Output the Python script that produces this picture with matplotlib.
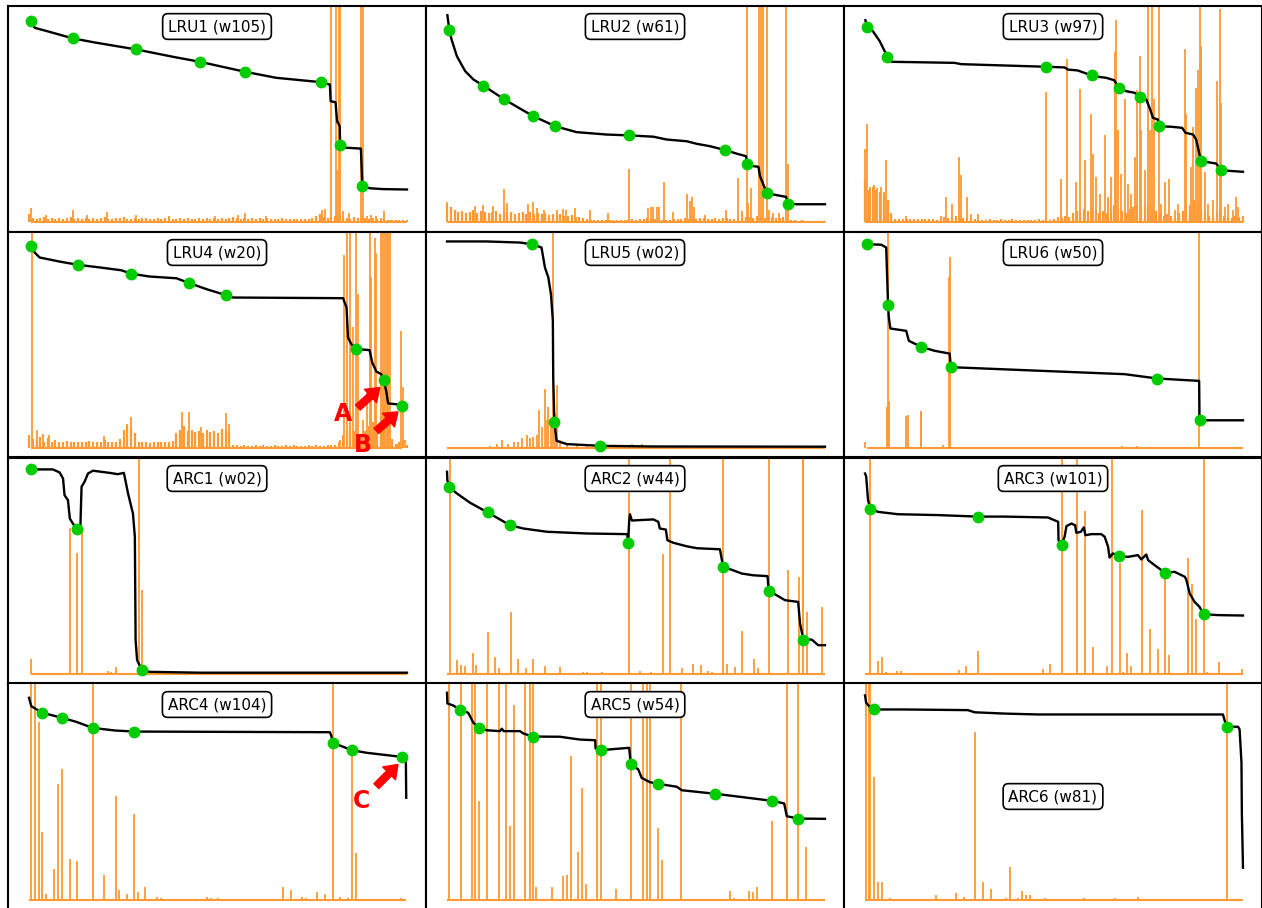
import numpy as np
import matplotlib.pyplot as plt

orange = '#ff9933'
green = '#00cc00'

# ---------------- LRU1 (w105)
lru1_x = [0.6, 1.5, 5.5, 11.6, 17.8, 28.4, 38.1, 45.2, 57.1, 65.4, 77.2, 79.6, 79.8, 81.1, 81.5,
          82.2, 82.3, 83.1, 87.8, 88.2, 90.1, 93.6, 100]
lru1_y = [92.7, 89.7, 87.8, 84.8, 82.8, 79.7, 76.3, 74.0, 69.4, 66.6, 64.6, 63.5, 55.8, 55.3, 46.6,
          44.3, 35.5, 34.4, 33.9, 16.5, 15.6, 15.2, 15.0]
lru1_dots = [(0.6, 92.7), (11.6, 84.8), (28.4, 79.7), (45.2, 74.0), (57.1, 69.4), (77.2, 64.6),
             (82.3, 35.5), (88.2, 16.5)]
lru1_spikes = [(0.6, 6.5), (4.4, 3.4), (11.6, 5.7), (15.3, 3.4), (20.7, 4.6), (28.4, 3.4), (37.0, 2.9),
               (49.1, 2.6), (55.3, 3.4), (57.1, 4.2), (62.8, 2.6), (77.4, 5.4), (78.2, 6.0), (79.8, 130),
               (81.1, 130), (81.5, 24), (82.0, 130), (82.4, 130), (83.1, 4.9), (84.7, 4.2), (87.9, 130),
               (88.3, 130), (89.3, 2.6), (90.6, 3.4), (91.9, 2.6), (93.8, 4.9), (95.4, 1.0)]
lru1_noise = [3.5, 2.0, 1.6, 1.8, 2.2, 1.5, 1.9, 1.4, 1.7, 1.6,
              1.8, 2.4, 1.5, 1.7, 1.6, 2.0, 1.5, 1.8, 1.4, 1.9,
              2.1, 1.6, 1.5, 1.8, 1.7, 2.2, 1.5, 1.6, 2.0, 1.4,
              1.7, 1.9, 1.5, 1.6, 1.8, 1.5, 2.0, 1.7, 1.4, 1.6,
              1.8, 1.5, 1.9, 1.6, 1.5, 1.7, 1.4, 1.8, 1.6, 2.0,
              1.5, 1.7, 1.6, 1.9, 2.2, 1.8, 1.6, 2.0, 1.5, 1.7,
              1.6, 1.8, 1.5, 1.7, 1.4, 1.6, 1.5, 1.8, 1.5, 1.4,
              1.6, 1.5, 1.4, 1.6, 1.5, 1.7, 2.8, 3.5, 2.5, 2.0,
              2.2, 3.0, 2.4, 2.0, 1.8, 1.6, 2.2, 1.8, 1.5, 2.0,
              1.6, 1.8, 1.5, 2.0, 1.2, 1.0, 0.9, 0.8, 0.8, 0.7, 0.7]

# ---------------- LRU2 (w61)
lru2_x = [0.1, 0.6, 1.2, 2.6, 4.8, 7.0, 9.6, 15.2, 19.3, 22.8, 28.7, 34.3, 42.2, 48.2, 54.6, 58.1,
          63.4, 66.1, 69.6, 73.6, 76.6, 79.1, 79.4, 81.0, 82.4, 82.8, 83.7, 84.6, 86.3, 89.7, 90.3,
          92.5, 100]
lru2_y = [95.5, 88.8, 84.3, 76.6, 69.7, 65.8, 63.0, 56.6, 52.4, 48.9, 44.2, 41.5, 40.4, 40.0, 39.4,
          38.1, 37.3, 36.1, 35.0, 33.2, 31.6, 30.4, 26.9, 25.8, 25.5, 21.2, 17.3, 13.5, 12.7, 11.6,
          8.5, 8.2, 8.2]
lru2_dots = [(0.6, 88.8), (9.6, 63.0), (15.2, 56.6), (22.8, 48.9), (28.7, 44.2), (48.2, 40.0),
             (73.6, 33.2), (79.4, 26.9), (84.6, 13.5), (90.3, 8.5)]
lru2_spikes = [(0.0, 9.1), (7.4, 7.2), (9.6, 8.0), (12.1, 7.5), (15.1, 15.2), (16.0, 8.8), (21.5, 8.5),
               (22.8, 9.4), (23.7, 6.5), (25.7, 5.5), (29.0, 5.7), (30.6, 6.0), (31.4, 5.7), (33.9, 6.5),
               (37.8, 5.4), (42.7, 4.0), (48.2, 24.6), (53.3, 6.5), (53.9, 7.0), (54.6, 7.0), (55.6, 7.0),
               (56.2, 7.0), (57.5, 18.3), (59.9, 4.5), (63.4, 13.1), (64.3, 9.5), (64.7, 11.5), (65.3, 7.0),
               (68.3, 3.4), (73.8, 5.4), (76.9, 20.3), (78.0, 5.2), (79.3, 130), (79.7, 8.8), (80.4, 15.6),
               (82.5, 130), (83.0, 130), (83.5, 130), (84.6, 130), (85.2, 5.7), (86.3, 4.1), (87.8, 4.1),
               (89.7, 130), (90.2, 26.8)]
lru2_noise = [8.0, 7.0, 5.5, 4.5, 5.0, 4.0, 4.8, 5.5, 4.2, 5.0,
              4.5, 4.0, 4.5, 5.2, 3.8, 4.6, 4.0, 4.8, 3.6, 4.2,
              4.5, 3.8, 4.4, 3.5, 4.0, 3.6, 4.2, 3.4, 3.8, 3.2,
              3.5, 3.0, 2.8, 3.2, 2.5, 2.2, 1.8, 1.2, 1.0, 0.9,
              1.0, 0.8, 0.9, 0.8, 1.0, 0.9, 0.8, 1.0, 1.0, 1.2,
              1.0, 1.4, 1.6, 1.8, 1.5, 1.4, 1.2, 1.0, 1.1, 1.0,
              1.2, 1.4, 1.6, 1.8, 1.6, 1.4, 1.5, 1.8, 2.0, 1.6,
              1.5, 1.8, 1.6, 2.0, 1.8, 1.5, 1.6, 1.8, 2.0, 2.5,
              2.2, 2.0, 2.8, 2.4, 2.0, 2.2, 2.5, 2.0, 1.8, 2.2,
              1.6, 0.8, 0.7, 0.6, 0.7, 0.6, 0.6, 0.5, 0.5, 0.5, 0.5]

# ---------------- LRU3 (w97)
lru3_x = [0.1, 0.6, 2.1, 3.9, 5.9, 7.0, 23.7, 25.5, 48.0, 52.8, 53.7, 56.3, 57.2, 60.0, 61.6, 63.8,
          65.9, 67.2, 69.1, 71.3, 72.7, 74.4, 75.3, 76.2, 77.5, 77.8, 81.0, 83.9, 84.8, 86.8, 87.6,
          88.5, 89.0, 92.9, 94.3, 96.5, 100]
lru3_y = [93.2, 90.2, 88.1, 83.5, 76.4, 74.0, 73.5, 72.9, 71.7, 71.4, 70.4, 70.0, 69.4, 67.7, 67.1,
          66.6, 65.5, 62.0, 60.4, 59.7, 57.8, 56.6, 52.7, 48.1, 47.3, 44.2, 44.0, 43.5, 41.2, 40.4,
          38.1, 31.2, 28.1, 27.0, 23.9, 23.6, 23.2]
lru3_dots = [(0.6, 90.2), (5.9, 76.4), (48.0, 71.7), (60.0, 67.7), (67.2, 62.0), (72.7, 57.8),
             (77.8, 44.2), (89.0, 28.1), (94.3, 23.9)]
lru3_spikes = [(0.1, 33.8), (0.6, 45.4), (1.4, 16.2), (2.4, 17.0), (3.3, 15.5), (4.2, 16.0), (5.1, 14.0),
               (5.6, 28.5), (10.8, 3.0), (20.2, 3.0), (21.3, 11.5), (23.0, 8.5),
               (24.8, 30.0), (25.3, 21.5), (26.9, 11.5), (28.1, 3.8), (29.9, 3.8), (48.0, 60.0),
               (51.9, 20.0), (53.4, 75.4), (55.9, 18.5), (56.8, 61.5), (58.1, 28.5), (59.9, 50.0),
               (60.3, 31.5), (61.2, 20.8), (62.1, 13.0), (63.6, 40.0), (64.3, 11.5), (65.2, 20.8),
               (66.1, 78.5), (66.5, 93.4), (66.9, 42.3), (67.8, 22.3), (68.7, 57.0), (69.6, 17.7),
               (70.5, 13.0), (71.4, 30.0), (72.0, 60.8), (72.7, 76.8), (73.1, 42.3), (74.0, 23.8),
               (74.9, 130), (75.3, 42.3), (75.9, 130), (76.5, 57.0), (77.8, 130), (78.2, 8.5),
               (79.3, 18.5), (80.4, 20.0), (81.9, 5.4), (82.8, 8.5), (84.6, 80.0), (85.0, 50.0),
               (86.3, 25.4), (86.8, 43.8), (87.6, 62.0), (88.1, 70.0), (88.5, 130), (89.0, 81.5),
               (89.9, 23.0), (90.7, 8.5), (92.1, 10.0), (93.2, 65.0), (93.8, 98.5), (94.3, 55.0),
               (95.2, 7.0), (96.0, 8.5), (97.4, 5.4), (98.2, 11.5), (98.7, 7.0), (100.0, 3.0)]
lru3_noise = [20, 15, 16, 15, 14, 13, 10, 4, 1.5, 1.2,
              1.4, 1.6, 1.3, 1.2, 1.5, 1.3, 1.2, 1.4, 1.2, 1.0,
              1.8, 2.5, 2.0, 2.2, 3.0, 2.5, 2.0, 1.8, 1.5, 1.2,
              1.0, 0.8, 1.0, 1.2, 0.8, 1.0, 1.2, 0.9, 1.0, 1.2,
              0.9, 1.0, 1.1, 0.8, 1.0, 0.9, 1.2, 1.0, 1.5, 1.0,
              1.2, 2.5, 2.0, 3.0, 2.5, 4.0, 5.0, 4.0, 6.0, 5.0,
              7.0, 5.0, 4.0, 5.0, 4.0, 6.0, 8.0, 6.0, 5.0, 4.0,
              6.0, 7.0, 8.0, 6.0, 7.0, 8.0, 6.0, 5.0, 4.0, 3.0,
              3.5, 3.0, 2.5, 4.0, 5.0, 6.0, 8.0, 10.0, 9.0, 6.0,
              4.0, 3.0, 2.5, 4.0, 5.0, 3.0, 2.5, 2.0, 3.0, 2.5, 1.5]

# ---------------- LRU4 (w20)
lru4_x = [0.6, 1.5, 2.8, 8.1, 13.0, 18.7, 24.4, 27.1, 31.9, 39.0, 42.2, 46.9, 52.1, 54.0, 83.1, 84.0,
          84.4, 85.3, 86.4, 90.1, 90.8, 91.9, 93.2, 93.8, 94.5, 95.0, 97.2, 98.8]
lru4_y = [93.1, 90.3, 88.0, 86.1, 84.6, 83.4, 82.1, 80.5, 79.2, 78.4, 76.3, 73.4, 70.6, 69.5, 69.2,
          64.9, 51.0, 47.9, 45.8, 45.2, 39.5, 35.3, 34.1, 31.3, 26.4, 20.6, 20.2, 19.5]
lru4_dots = [(0.6, 93.1), (13.0, 84.6), (27.1, 80.5), (42.2, 76.3), (52.1, 70.6), (86.4, 45.8),
             (93.8, 31.3), (98.8, 19.5)]
lru4_spikes = [(0.8, 130), (2.0, 8.2), (3.7, 6.6), (5.3, 5.8), (19.8, 5.4), (25.8, 11.2), (26.9, 14.3),
               (40.6, 16.6), (42.3, 16.6), (45.6, 9.7), (52.2, 16.2), (52.9, 11.2), (82.2, 3.5),
               (83.3, 89.0), (84.0, 130), (84.8, 130), (85.6, 56.0), (86.4, 130), (87.0, 71.0),
               (88.4, 12.8), (89.3, 26.5), (90.1, 130), (90.6, 79.0), (91.5, 97.0), (91.9, 90.0),
               (93.2, 130), (93.7, 130), (94.1, 130), (94.6, 130), (95.0, 130), (95.4, 130), (96.1, 3.5),
               (97.6, 2.0), (98.5, 54.0), (98.9, 28.0), (99.4, 3.5)]
lru4_noise = [6.0, 4.0, 3.5, 5.0, 3.0, 4.5, 3.0, 3.5, 2.8, 3.0,
              3.2, 2.8, 3.0, 2.6, 3.0, 2.8, 3.2, 2.6, 3.0, 2.8,
              3.5, 2.7, 3.0, 2.8, 4.0, 8.5, 10.0, 9.0, 7.0, 3.0,
              2.8, 3.0, 2.5, 2.8, 3.0, 2.6, 3.0, 2.8, 3.2, 7.0,
              8.5, 10.0, 8.0, 8.5, 7.5, 8.0, 7.0, 8.5, 7.5, 8.0,
              7.0, 9.0, 8.0, 7.5, 1.5, 1.2, 1.0, 1.3, 1.1, 1.0,
              1.2, 1.0, 1.3, 1.1, 1.0, 1.2, 1.0, 1.1, 1.3, 1.0,
              1.2, 1.0, 1.1, 1.0, 1.2, 1.0, 1.3, 1.1, 1.0, 1.2,
              1.4, 1.6, 3.0, 6.0, 8.0, 10.0, 8.0, 6.0, 5.0, 8.0,
              10.0, 12.0, 8.0, 15.0, 20.0, 12.0, 4.0, 2.0, 3.0, 4.0, 1.5]

# ---------------- LRU5 (w02)
lru5_x = [0.0, 10.5, 19.3, 22.5, 25.0, 25.9, 26.8, 27.5, 28.0, 28.1, 28.4, 29.0, 31.7, 40.6, 54.6, 100]
lru5_y = [95.4, 95.4, 94.9, 94.1, 92.6, 83.4, 78.8, 71.0, 58.8, 32.6, 11.8, 3.3, 1.8, 1.0, 0.7, 0.6]
lru5_dots = [(22.5, 94.1), (28.4, 11.8), (40.6, 1.0)]
lru5_spikes = [(11.4, 0.9), (13.1, 2.0), (14.5, 3.5), (16.2, 2.0), (17.6, 2.7), (18.9, 2.7), (19.8, 4.6),
               (21.1, 5.8), (22.0, 4.8), (22.8, 5.2), (23.7, 5.8), (24.4, 17.4), (25.0, 9.7), (25.9, 27.4),
               (26.4, 12.8), (26.8, 19.0), (27.4, 9.7), (28.1, 130), (28.6, 15.8), (29.0, 29.0),
               (29.9, 3.5), (31.7, 2.0), (34.3, 1.2), (37.0, 1.0), (40.5, 1.2), (45.8, 1.2), (48.9, 2.0),
               (51.5, 2.0), (59.0, 1.0)]

# ---------------- LRU6 (w50)
lru6_x = [0.6, 4.3, 5.6, 6.1, 6.3, 6.7, 10.9, 11.6, 14.9, 18.4, 22.4, 22.7, 24.6, 45.8, 68.7, 77.3,
          88.4, 88.5, 100]
lru6_y = [94.1, 93.9, 92.6, 66.1, 60.3, 55.2, 54.1, 49.5, 46.7, 44.9, 43.6, 37.5, 37.2, 35.7, 34.1,
          32.1, 31.0, 12.8, 12.8]
lru6_dots = [(0.6, 94.1), (6.1, 66.1), (14.9, 46.7), (22.7, 37.5), (77.3, 32.1), (88.5, 12.8)]
lru6_spikes = [(0.0, 3.0), (5.8, 19.0), (6.1, 130), (6.4, 21.5), (10.9, 14.6), (11.3, 15.4), (14.7, 17.0),
               (14.9, 17.3), (20.6, 1.5), (22.3, 79.0), (22.5, 88.0), (45.0, 0.5), (68.0, 0.8),
               (72.0, 0.7), (88.4, 130), (93.4, 0.6)]

# ---------------- ARC1 (w02)
arc1_x = [0.6, 6.3, 8.1, 9.0, 9.4, 10.3, 10.8, 11.6, 12.7, 13.6, 13.9, 14.7, 15.6, 16.9, 21.3, 23.5,
          25.1, 26.2, 27.5, 28.0, 28.2, 28.6, 29.9, 31.9, 45.2, 100]
arc1_y = [94.5, 94.5, 93.1, 90.3, 82.6, 80.3, 71.8, 69.5, 66.9, 68.7, 86.5, 88.8, 92.6, 93.9, 92.9,
          92.3, 92.9, 83.4, 74.1, 63.4, 15.6, 6.4, 1.8, 1.0, 0.6, 0.6]
arc1_dots = [(0.6, 94.5), (12.7, 66.9), (29.9, 1.8)]
arc1_spikes = [(0.6, 6.9), (10.8, 67.4), (12.8, 56.0), (13.9, 67.4), (18.0, 0.3), (19.0, 0.5), (20.9, 1.5),
               (21.8, 0.8), (22.9, 3.4), (29.0, 130), (30.0, 39.0)]

# ---------------- ARC2 (w44)
arc2_x = [0.0, 0.1, 0.6, 2.6, 6.1, 10.8, 14.0, 16.7, 20.2, 26.4, 37.0, 47.7, 47.9, 48.2, 48.4, 48.9,
          54.6, 55.9, 56.3, 57.9, 58.3, 59.9, 63.4, 66.1, 72.2, 72.7, 73.0, 75.7, 78.0, 81.0, 84.8,
          85.1, 87.2, 89.4, 92.9, 93.4, 94.3, 96.5, 98.2, 100]
arc2_y = [93.4, 89.5, 86.3, 83.4, 79.1, 74.6, 71.4, 68.7, 67.2, 65.7, 64.9, 64.6, 60.6, 71.0, 73.8,
          70.9, 71.4, 70.3, 67.2, 66.7, 61.8, 60.6, 59.0, 58.1, 57.6, 52.9, 49.5, 47.9, 46.4, 45.6,
          45.2, 38.4, 36.4, 34.1, 33.3, 23.3, 15.9, 15.9, 13.3, 13.3]
arc2_dots = [(0.6, 86.3), (10.8, 74.6), (16.7, 68.7), (47.9, 60.6), (73.0, 49.5), (85.1, 38.4),
             (94.3, 15.9)]
arc2_spikes = [(0.8, 130), (2.7, 6.5), (3.6, 4.3), (4.7, 3.7), (6.8, 9.5), (7.8, 4.3), (10.8, 19.2),
               (12.7, 7.7), (13.8, 2.6), (16.8, 28.5), (18.7, 7.1), (20.9, 2.6), (22.8, 7.1), (25.9, 3.7),
               (29.9, 3.1), (30.8, 0.5), (33.0, 0.5), (36.1, 0.8), (37.0, 0.9), (40.9, 0.8), (42.0, 0.5),
               (43.8, 0.5), (46.0, 0.3), (48.1, 130), (51.1, 1.4), (54.0, 1.1), (57.1, 55.4), (59.0, 130),
               (60.1, 0.5), (62.1, 2.9), (65.0, 4.6), (67.2, 4.2), (69.1, 1.2), (70.0, 0.9), (73.1, 130),
               (74.0, 4.6), (76.2, 3.4), (78.1, 20.0), (81.2, 6.9), (82.3, 2.6), (85.2, 130), (90.1, 48.0),
               (93.2, 45.0), (94.1, 130), (94.3, 130), (95.2, 28.6), (99.3, 31.0)]

# ---------------- ARC3 (w101)
arc3_x = [0.0, 0.3, 0.8, 1.4, 3.4, 8.7, 19.3, 29.8, 37.0, 48.4, 51.1, 51.2, 52.0, 52.8, 53.3, 54.6,
          55.6, 55.9, 57.1, 57.9, 58.3, 59.9, 62.5, 63.4, 64.3, 64.7, 65.6, 67.2, 69.6, 72.2, 73.1,
          74.4, 74.9, 76.6, 79.4, 81.9, 84.6, 85.0, 85.9, 87.2, 88.5, 89.6, 93.4, 100]
arc3_y = [92.6, 91.4, 80.3, 76.4, 74.9, 73.8, 73.4, 72.7, 72.7, 72.3, 70.3, 61.8, 59.8, 63.4, 68.3,
          69.5, 68.7, 65.2, 65.7, 67.7, 64.1, 64.6, 64.6, 63.4, 58.8, 53.8, 55.7, 54.4, 54.1, 54.9,
          52.9, 55.2, 52.6, 50.3, 46.7, 47.2, 44.9, 43.6, 37.2, 33.3, 31.0, 27.6, 27.2, 27.0]
arc3_dots = [(1.4, 76.4), (29.8, 72.7), (52.0, 59.8), (67.2, 54.4), (79.4, 46.7), (89.6, 27.6)]
arc3_spikes = [(1.4, 130), (3.4, 6.2), (4.5, 8.0), (5.6, 0.8), (6.5, 0.5), (8.5, 1.5), (9.4, 1.2),
               (11.6, 0.5), (12.4, 0.5), (13.6, 0.6), (18.7, 0.5), (20.8, 0.5), (21.7, 0.5), (24.8, 1.8),
               (26.7, 3.8), (29.9, 10.8), (33.9, 0.3), (37.8, 0.5), (42.0, 0.6), (43.6, 0.4), (47.1, 2.3),
               (49.0, 4.6), (52.0, 130), (56.1, 130), (58.2, 75.4), (60.3, 12.3), (64.1, 3.8), (65.3, 130),
               (67.4, 51.5), (68.3, 0.8), (69.2, 9.5), (70.4, 3.7), (73.3, 75.7), (75.3, 21.0),
               (77.5, 11.5), (79.4, 46.0), (80.3, 8.8), (85.4, 53.4), (86.5, 41.5), (87.6, 25.5),
               (89.7, 130), (90.6, 0.8), (93.7, 5.4), (99.7, 2.3)]

# ---------------- ARC4 (w104)
arc4_x = [0.0, 0.6, 3.5, 8.6, 12.5, 16.8, 22.7, 27.8, 79.6, 80.0, 80.4, 85.4, 89.3, 98.6, 99.7, 99.8]
arc4_y = [93.4, 89.5, 86.5, 84.2, 82.3, 79.5, 78.3, 77.8, 77.5, 75.7, 72.6, 69.2, 68.0, 66.1, 64.1, 47.2]
arc4_dots = [(3.5, 86.5), (8.6, 84.2), (16.8, 79.5), (27.8, 77.8), (80.4, 72.6), (85.4, 69.2),
             (98.6, 66.1)]
arc4_spikes = [(0.6, 130), (1.5, 130), (2.6, 82.0), (3.5, 31.5), (4.6, 2.8), (6.5, 14.3), (7.7, 53.4),
               (8.6, 60.5), (10.8, 19.0), (12.7, 18.0), (16.8, 130), (19.8, 11.7), (22.9, 48.0),
               (23.7, 4.5), (25.8, 2.6), (27.9, 39.7), (28.8, 3.5), (30.8, 6.2), (33.9, 1.5), (34.8, 0.8),
               (47.1, 1.5), (48.1, 0.8), (50.0, 0.8), (67.2, 6.2), (69.2, 4.5), (72.3, 1.5), (73.4, 0.7),
               (76.3, 3.5), (78.4, 2.6), (80.4, 130), (82.4, 1.5), (84.5, 0.8), (85.4, 69.0), (86.4, 21.5),
               (98.5, 0.8)]

# ---------------- ARC5 (w54)
arc5_x = [0.0, 0.1, 1.7, 3.5, 5.6, 7.0, 8.5, 10.5, 14.0, 14.5, 15.0, 19.3, 20.2, 22.7, 29.9, 35.2,
          39.2, 39.3, 40.7, 42.7, 48.2, 48.6, 50.6, 51.5, 53.7, 55.7, 60.8, 62.1, 70.8, 81.0, 86.0,
          89.2, 89.9, 92.9, 100]
arc5_y = [95.7, 90.8, 89.8, 87.7, 86.5, 81.8, 79.5, 78.4, 78.0, 79.1, 78.0, 78.0, 76.9, 75.5, 75.4,
          74.1, 73.8, 70.0, 69.1, 69.5, 70.3, 62.9, 60.3, 56.4, 54.4, 53.7, 52.3, 50.7, 49.1, 46.9,
          45.8, 44.6, 38.7, 37.6, 37.5]
arc5_dots = [(3.5, 87.7), (8.5, 79.5), (22.7, 75.5), (40.7, 69.1), (48.6, 62.9), (55.7, 53.7),
             (70.8, 49.1), (86.0, 45.8), (92.9, 37.6)]
arc5_spikes = [(0.5, 130), (3.6, 130), (6.5, 130), (7.5, 130), (8.5, 45.8), (10.6, 130), (13.7, 130),
               (15.6, 130), (16.7, 34.2), (17.7, 90.3), (20.6, 130), (22.0, 130), (22.8, 130), (23.5, 6.2),
               (27.8, 5.8), (30.6, 11.0), (31.7, 11.5), (32.8, 66.5), (34.7, 22.0), (35.7, 51.8),
               (36.8, 7.4), (39.6, 130), (40.7, 130), (44.7, 4.9), (48.7, 130), (51.8, 130), (52.9, 130),
               (53.7, 130), (55.8, 33.2), (56.9, 18.5), (61.9, 130), (67.8, 0.6), (70.8, 0.4), (74.9, 4.3),
               (75.9, 0.8), (79.9, 4.2), (80.9, 3.7), (82.0, 5.8), (86.0, 36.5), (89.9, 130), (92.9, 130),
               (95.0, 24.6)]

# ---------------- ARC6 (w81)
arc6_x = [0.0, 0.3, 1.7, 2.4, 10.5, 27.2, 29.0, 37.0, 45.8, 94.7, 95.2, 95.8, 98.7, 99.1, 99.6, 99.7,
          100]
arc6_y = [94.5, 91.1, 88.3, 88.0, 88.0, 87.7, 86.7, 86.1, 85.7, 85.7, 82.6, 80.1, 80.0, 78.8, 63.4,
          40.3, 14.9]
arc6_dots = [(2.4, 88.0), (95.8, 80.1)]
arc6_spikes = [(0.3, 130), (1.0, 130), (1.4, 130), (2.5, 57.0), (3.4, 8.2), (4.5, 8.2), (5.6, 0.5),
               (6.7, 0.8), (7.7, 0.5), (18.9, 2.3), (24.1, 3.1), (26.2, 1.5), (29.1, 77.4), (31.2, 8.5),
               (33.2, 4.9), (37.2, 1.1), (38.3, 15.4), (40.5, 0.8), (41.5, 4.2), (42.5, 2.3), (43.6, 2.3),
               (44.6, 0.5), (46.6, 0.5), (47.7, 0.8), (52.5, 0.4), (56.0, 0.4), (57.9, 0.8), (60.0, 0.5),
               (66.1, 1.1), (72.2, 1.4), (76.4, 0.5), (95.8, 130)]

panels = [
    ('LRU1 (w105)', lru1_x, lru1_y, lru1_dots, lru1_spikes, lru1_noise),
    ('LRU2 (w61)', lru2_x, lru2_y, lru2_dots, lru2_spikes, lru2_noise),
    ('LRU3 (w97)', lru3_x, lru3_y, lru3_dots, lru3_spikes, lru3_noise),
    ('LRU4 (w20)', lru4_x, lru4_y, lru4_dots, lru4_spikes, lru4_noise),
    ('LRU5 (w02)', lru5_x, lru5_y, lru5_dots, lru5_spikes, None),
    ('LRU6 (w50)', lru6_x, lru6_y, lru6_dots, lru6_spikes, None),
    ('ARC1 (w02)', arc1_x, arc1_y, arc1_dots, arc1_spikes, None),
    ('ARC2 (w44)', arc2_x, arc2_y, arc2_dots, arc2_spikes, None),
    ('ARC3 (w101)', arc3_x, arc3_y, arc3_dots, arc3_spikes, None),
    ('ARC4 (w104)', arc4_x, arc4_y, arc4_dots, arc4_spikes, None),
    ('ARC5 (w54)', arc5_x, arc5_y, arc5_dots, arc5_spikes, None),
    ('ARC6 (w81)', arc6_x, arc6_y, arc6_dots, arc6_spikes, None),
]

# marked points: (panel index, letter, letter pos, arrow tail, arrow head)
marks = [
    (3, 'A', (83.1, 15.6), (87.0, 18.7), (92.8, 27.9)),
    (3, 'B', (88.4, 1.2), (91.9, 7.9), (97.6, 16.7)),
    (9, 'C', (87.9, 45.6), (91.9, 52.6), (97.6, 62.6)),
]

W, H = 1262, 908
col_left = [8, 426, 844]
row_top = [5.5, 231.5, 457.5, 683.5]
pw, ph = 418, 226

fig = plt.figure(figsize=(W / 100, H / 100), dpi=100)
axes = []
for i, (title, cx, cy, dots, spikes, noise) in enumerate(panels):
    r, c = divmod(i, 3)
    ax = fig.add_axes([col_left[c] / W, 1 - (row_top[r] + ph) / H, pw / W, ph / H])
    axes.append(ax)

    # orange request series: zero line, low background and spikes
    ax.hlines(0, cx[0], cx[-1], colors=orange, lw=1.5, zorder=1)
    if noise is not None:
        nx = np.linspace(0, 100, len(noise))
        ax.vlines(nx, 0, noise, colors=orange, lw=1.6, zorder=1)
    sx, sh = np.array(spikes).T
    ax.vlines(sx, 0, sh, colors=orange, lw=1.3, zorder=1.5)

    ax.plot(cx, cy, color='black', lw=1.7, zorder=3)
    dx, dy = np.array(dots).T
    ax.plot(dx, dy, 'o', color=green, ms=7.5, zorder=4)

    box_y = 0.5 if title.startswith('ARC6') else 0.907
    ax.text(0.5, box_y, title, transform=ax.transAxes, ha='center', va='center', fontsize=11,
            bbox=dict(boxstyle='round,pad=0.35', fc='white', ec='black', lw=1.2), zorder=5)

    ax.set_xlim(-5.56, 105.03)
    ax.set_ylim(-4.39, 100)
    ax.set_xticks([])
    ax.set_yticks([])
    for s in ax.spines.values():
        s.set_linewidth(1.5)

for idx, letter, lpos, tail, head in marks:
    ax = axes[idx]
    ax.annotate('', xy=head, xytext=tail,
                arrowprops=dict(facecolor='red', edgecolor='red', width=5, headwidth=13,
                                headlength=9, shrink=0), zorder=6)
    ax.text(lpos[0], lpos[1], letter, color='red', fontsize=17, fontweight='bold',
            ha='center', va='center', zorder=6)

fig.savefig('out.png', dpi=100)
